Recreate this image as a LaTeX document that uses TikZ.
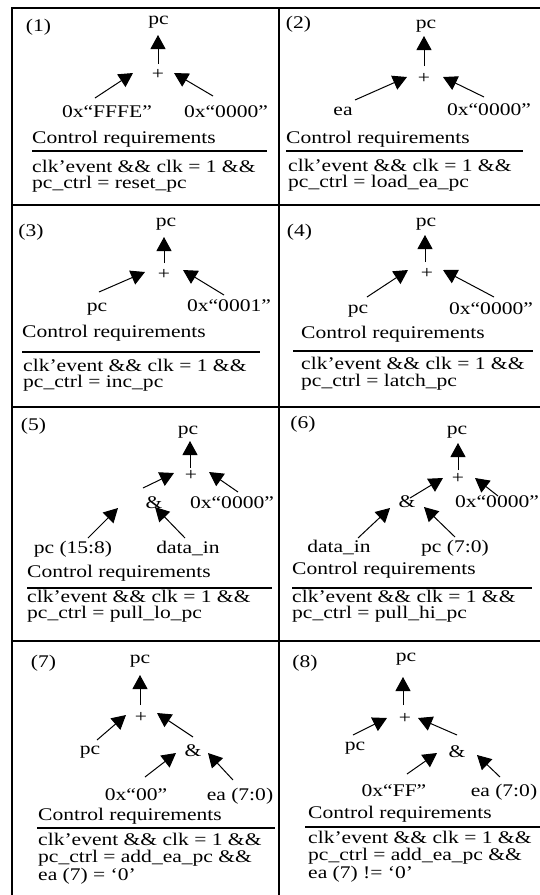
\documentclass[tikz,border=0pt]{standalone}
\usepackage{fontspec}
\setmainfont{Liberation Serif}[FakeStretch=1.21]
\usetikzlibrary{arrows.meta}
\newcommand\fnt{\fontsize{17.8}{18}\selectfont}
\begin{document}
\begin{tikzpicture}[x=1pt,y=-1pt,
  t/.style={inner sep=0pt,anchor=base,font=\fnt},
  l/.style={inner sep=0pt,anchor=base west,font=\fnt},
  op/.style={inner sep=0pt,anchor=center,font=\fnt},
  arr/.style={line width=1pt,-{Triangle[length=14pt,width=15pt]}},
  frame/.style={line width=2pt},
  rulel/.style={line width=1.1pt}]
\useasboundingbox (0,0) rectangle (540,895);
% frame
\coordinate (fTL) at (12,8); \coordinate (fTR) at (540,8);
\coordinate (fBL) at (12,895);
\coordinate (fMT) at (279,8); \coordinate (fMB) at (279,895);
\coordinate (r1L) at (12,205); \coordinate (r1R) at (540,205);
\coordinate (r2L) at (12,407); \coordinate (r2R) at (540,407);
\coordinate (r3L) at (12,641); \coordinate (r3R) at (540,641);
\draw[frame] (fBL) -- (fTL) -- (fTR);
\draw[frame] (fMT) -- (fMB);
\draw[frame] (r1L) -- (r1R);
\draw[frame] (r2L) -- (r2R);
\draw[frame] (r3L) -- (r3R);

% ---------- panel 1
\node[t] (n1) at (38.5,31) {(1)};
\node[t] (p1) at (158.5,24) {pc};
\node[op] (s1) at (158,74) {+};
\node[t] (a1) at (107,117) {0x“FFFE”};
\node[t] (b1) at (226,117) {0x“0000”};
\node[l] (c1) at (32,143) {Control requirements};
\node[l] (d1) at (32,172) {clk’event \&\& clk = 1 \&\&};
\node[l] (e1) at (32,188.5) {pc\_ctrl = reset\_pc};
\coordinate (u1s) at (158,64); \coordinate (u1t) at (158,35);
\coordinate (l1s) at (95,98); \coordinate (l1t) at (133,73);
\coordinate (q1s) at (213,96); \coordinate (q1t) at (174,73);
\coordinate (k1a) at (32,151); \coordinate (k1b) at (267,151);
\draw[arr] (u1s) -- (u1t);
\draw[arr] (l1s) -- (l1t);
\draw[arr] (q1s) -- (q1t);
\draw[rulel] (k1a) -- (k1b);

% ---------- panel 2
\node[t] (n2) at (298.5,28) {(2)};
\node[t] (p2) at (426,28) {pc};
\node[op] (s2) at (424,78) {+};
\node[t] (a2) at (343,115) {ea};
\node[t] (b2) at (489,115) {0x“0000”};
\node[l] (c2) at (286,143) {Control requirements};
\node[l] (d2) at (288,171) {clk’event \&\& clk = 1 \&\&};
\node[l] (e2) at (288,187.5) {pc\_ctrl = load\_ea\_pc};
\coordinate (u2s) at (424,66); \coordinate (u2t) at (424,36);
\coordinate (l2s) at (355,100); \coordinate (l2t) at (407,77);
\coordinate (q2s) at (484,97); \coordinate (q2t) at (443,77);
\coordinate (k2a) at (286,151); \coordinate (k2b) at (523,151);
\draw[arr] (u2s) -- (u2t);
\draw[arr] (l2s) -- (l2t);
\draw[arr] (q2s) -- (q2t);
\draw[rulel] (k2a) -- (k2b);

% ---------- panel 3
\node[t] (n3) at (31,236) {(3)};
\node[t] (p3) at (166,226) {pc};
\node[op] (s3) at (164,274) {+};
\node[t] (a3) at (97,311) {pc};
\node[t] (b3) at (229,311) {0x“0001”};
\node[l] (c3) at (22,337) {Control requirements};
\node[l] (d3) at (23,371) {clk’event \&\& clk = 1 \&\&};
\node[l] (e3) at (23,387.5) {pc\_ctrl = inc\_pc};
\coordinate (u3s) at (164,263); \coordinate (u3t) at (164,237);
\coordinate (l3s) at (99,292); \coordinate (l3t) at (145,272);
\coordinate (q3s) at (224,295); \coordinate (q3t) at (183,270);
\coordinate (k3a) at (22,352); \coordinate (k3b) at (260,352);
\draw[arr] (u3s) -- (u3t);
\draw[arr] (l3s) -- (l3t);
\draw[arr] (q3s) -- (q3t);
\draw[rulel] (k3a) -- (k3b);

% ---------- panel 4
\node[t] (n4) at (299.5,236) {(4)};
\node[t] (p4) at (426,226) {pc};
\node[op] (s4) at (427,273) {+};
\node[t] (a4) at (358,313) {pc};
\node[t] (b4) at (491,314) {0x“0000”};
\node[l] (c4) at (301,338) {Control requirements};
\node[l] (d4) at (301,369.5) {clk’event \&\& clk = 1 \&\&};
\node[l] (e4) at (301,386) {pc\_ctrl = latch\_pc};
\coordinate (u4s) at (425,262); \coordinate (u4t) at (425,235);
\coordinate (l4s) at (367,297); \coordinate (l4t) at (408,270);
\coordinate (q4s) at (494,297); \coordinate (q4t) at (443,270);
\coordinate (k4a) at (293,351); \coordinate (k4b) at (533,351);
\draw[arr] (u4s) -- (u4t);
\draw[arr] (l4s) -- (l4t);
\draw[arr] (q4s) -- (q4t);
\draw[rulel] (k4a) -- (k4b);

% ---------- panel 5
\node[t] (n5) at (33.5,430) {(5)};
\node[t] (p5) at (188,434) {pc};
\node[op] (s5) at (191,475) {+};
\node[t] (m5) at (154,508) {\&};
\node[t] (b5) at (232,508) {0x“0000”};
\node[t] (a5) at (73,553) {pc (15:8)};
\node[t] (g5) at (188,553) {data\_in};
\node[l] (c5) at (27,577) {Control requirements};
\node[l] (d5) at (27,602) {clk’event \&\& clk = 1 \&\&};
\node[l] (e5) at (27,618.5) {pc\_ctrl = pull\_lo\_pc};
\coordinate (u5s) at (190,468); \coordinate (u5t) at (190,441);
\coordinate (l5s) at (143,488); \coordinate (l5t) at (174,473);
\coordinate (q5s) at (238,492); \coordinate (q5t) at (209,472);
\coordinate (v5s) at (88,538); \coordinate (v5t) at (118,508);
\coordinate (w5s) at (185,538); \coordinate (w5t) at (155,507);
\coordinate (k5a) at (27,588); \coordinate (k5b) at (272,588);
\draw[arr] (u5s) -- (u5t);
\draw[arr] (l5s) -- (l5t);
\draw[arr] (q5s) -- (q5t);
\draw[arr] (v5s) -- (v5t);
\draw[arr] (w5s) -- (w5t);
\draw[rulel] (k5a) -- (k5b);

% ---------- panel 6
\node[t] (n6) at (303,428) {(6)};
\node[t] (p6) at (457,434) {pc};
\node[op] (s6) at (458,478) {+};
\node[t] (m6) at (407,507) {\&};
\node[t] (b6) at (497,507) {0x“0000”};
\node[t] (a6) at (339,552) {data\_in};
\node[t] (g6) at (455,552) {pc (7:0)};
\node[l] (c6) at (292,574) {Control requirements};
\node[l] (d6) at (292,602) {clk’event \&\& clk = 1 \&\&};
\node[l] (e6) at (292,618.5) {pc\_ctrl = pull\_hi\_pc};
\coordinate (u6s) at (458,470); \coordinate (u6t) at (458,443);
\coordinate (l6s) at (410,498); \coordinate (l6t) at (443,478);
\coordinate (q6s) at (498,496); \coordinate (q6t) at (475,478);
\coordinate (v6s) at (358,538); \coordinate (v6t) at (390,508);
\coordinate (w6s) at (455,537); \coordinate (w6t) at (424,507);
\coordinate (k6a) at (292,588); \coordinate (k6b) at (532,588);
\draw[arr] (u6s) -- (u6t);
\draw[arr] (l6s) -- (l6t);
\draw[arr] (q6s) -- (q6t);
\draw[arr] (v6s) -- (v6t);
\draw[arr] (w6s) -- (w6t);
\draw[rulel] (k6a) -- (k6b);

% ---------- panel 7
\node[t] (n7) at (43.5,667) {(7)};
\node[t] (p7) at (140,663) {pc};
\node[op] (s7) at (141,717) {+};
\node[t] (a7) at (90,754) {pc};
\node[t] (m7) at (193,756) {\&};
\node[t] (f7) at (136,800) {0x“00”};
\node[t] (g7) at (240,800) {ea (7:0)};
\node[l] (c7) at (38,820) {Control requirements};
\node[l] (d7) at (38,845) {clk’event \&\& clk = 1 \&\&};
\node[l] (e7) at (38,862.5) {pc\_ctrl = add\_ea\_pc \&\&};
\node[l] (h7) at (38,880) {ea (7) = ‘0’};
\coordinate (u7s) at (140,705); \coordinate (u7t) at (140,675);
\coordinate (l7s) at (97,740); \coordinate (l7t) at (126,715);
\coordinate (q7s) at (193,737); \coordinate (q7t) at (157,713);
\coordinate (v7s) at (145,777); \coordinate (v7t) at (176,753);
\coordinate (w7s) at (233,780); \coordinate (w7t) at (208,753);
\coordinate (k7a) at (37,828); \coordinate (k7b) at (275,828);
\draw[arr] (u7s) -- (u7t);
\draw[arr] (l7s) -- (l7t);
\draw[arr] (q7s) -- (q7t);
\draw[arr] (v7s) -- (v7t);
\draw[arr] (w7s) -- (w7t);
\draw[rulel] (k7a) -- (k7b);

% ---------- panel 8
\node[t] (n8) at (305,667) {(8)};
\node[t] (p8) at (406,661) {pc};
\node[op] (s8) at (405,718) {+};
\node[t] (a8) at (355,750) {pc};
\node[t] (m8) at (457,757) {\&};
\node[t] (f8) at (394,796) {0x“FF”};
\node[t] (g8) at (504,796) {ea (7:0)};
\node[l] (c8) at (308,818) {Control requirements};
\node[l] (d8) at (308,843) {clk’event \&\& clk = 1 \&\&};
\node[l] (e8) at (308,860.5) {pc\_ctrl = add\_ea\_pc \&\&};
\node[l] (h8) at (308,878) {ea (7) != ‘0’};
\coordinate (u8s) at (403,705); \coordinate (u8t) at (403,677);
\coordinate (l8s) at (353,735); \coordinate (l8t) at (387,718);
\coordinate (q8s) at (457,735); \coordinate (q8t) at (418,718);
\coordinate (v8s) at (407,774); \coordinate (v8t) at (437,753);
\coordinate (w8s) at (500,777); \coordinate (w8t) at (477,755);
\coordinate (k8a) at (305,827); \coordinate (k8b) at (540,827);
\draw[arr] (u8s) -- (u8t);
\draw[arr] (l8s) -- (l8t);
\draw[arr] (q8s) -- (q8t);
\draw[arr] (v8s) -- (v8t);
\draw[arr] (w8s) -- (w8t);
\draw[rulel] (k8a) -- (k8b);
\end{tikzpicture}
\end{document}
